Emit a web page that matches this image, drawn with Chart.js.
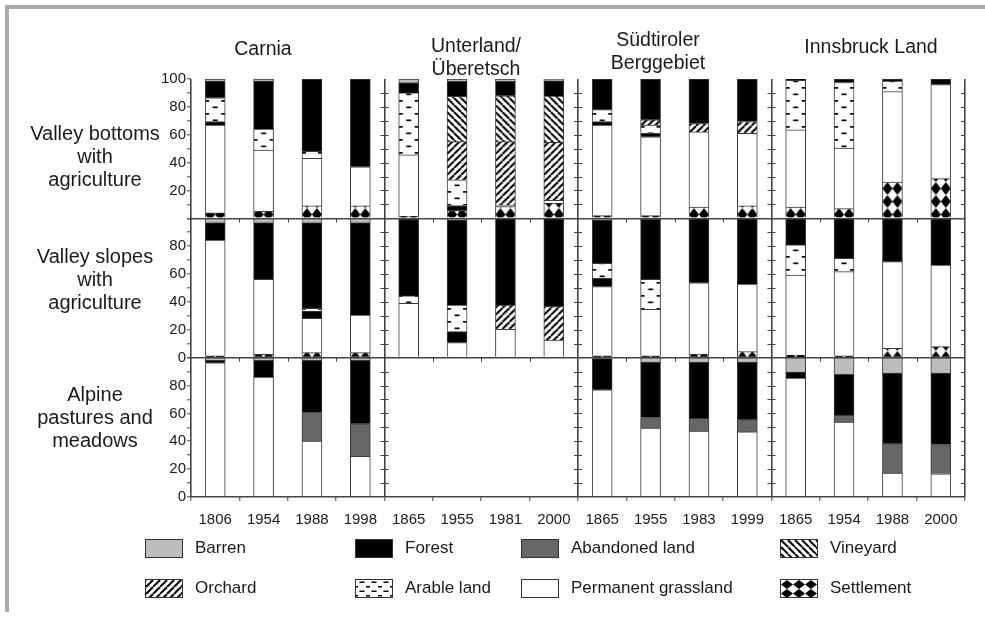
<!DOCTYPE html>
<html>
<head>
<meta charset="utf-8">
<script src="https://cdn.jsdelivr.net/npm/chart.js@4.4.0/dist/chart.umd.min.js"></script>
<style>
  html, body { background: #fff; }
  body { margin: 0; width: 985px; height: 620px; overflow: hidden; position: relative;
         font-family: "Liberation Sans", Arial, sans-serif; color: #1a1a1a; }
  .frame { position: absolute; background: #ababab; }
  canvas { position: absolute; left: 0; top: 0; }
  .lbl { position: absolute; transform: translate(-50%, -50%); line-height: 23px;
         text-align: center; white-space: nowrap; }
  .title { font-size: 19.5px; }
  .zone { font-size: 20px; }
  .leg { position: absolute; height: 22px; display: flex; align-items: center; font-size: 17px; white-space: nowrap; }
  .sw { width: 36px; height: 17px; border: 1.5px solid #333; margin-right: 12px; }
</style>
</head>
<body>
<div class="frame" style="left:5px; top:5px; width:980px; height:4px;"></div>
<div class="frame" style="left:5px; top:5px; width:4px; height:607px;"></div>
<canvas id="chart" width="985" height="620"></canvas>
<div id="texts"></div>
<script>
const years = ['1806', '1954', '1988', '1998', '1865', '1955', '1981', '2000',
               '1865', '1955', '1983', '1999', '1865', '1954', '1988', '2000'];
const regions = ['Carnia', 'Unterland/<br>Überetsch', 'Südtiroler<br>Berggebiet', 'Innsbruck Land'];
const zones = ['Valley bottoms<br>with<br>agriculture', 'Valley slopes<br>with<br>agriculture',
               'Alpine<br>pastures and<br>meadows'];

// share of area (%), one array per zone (valley bottoms, valley slopes, alpine)
const settlement = [
  [4, 5, 9, 9, 1.5, 5.5, 8.5, 11, 2, 2, 8, 9, 8, 7, 26, 28.5],
  [1.4, 2.4, 3.6, 3.6, 0, 0, 0, 0, 1.4, 1.4, 2.6, 4.3, 1.9, 1.4, 6.7, 7.9],
  [0, 0, 0, 0, 0, 0, 0, 0, 0, 0, 0, 0, 0, 0, 0, 0]
];
const grassland = [
  [63, 44, 34, 28, 44, 0, 1, 2, 65, 56.5, 54, 52, 55.5, 43.5, 65, 67.5],
  [83, 53.8, 24.6, 27, 39, 10.8, 20.3, 12.7, 49.6, 33.3, 51.2, 48.6, 57.4, 60.3, 62.2, 58.6],
  [96.3, 86, 40.2, 29.2, 0, 0, 0, 0, 77, 49.5, 47.4, 46.7, 85.4, 53.8, 17.2, 16.7]
];
// black band drawn between grassland and arable land
const forestStrip = [
  [2.5, 0, 0, 0, 0, 3.7, 0, 0, 2.5, 2.5, 0, 0, 0, 0, 0, 0],
  [0, 0, 5.3, 0, 0, 7.9, 0, 0, 6, 0, 0, 0, 0, 0, 0, 0],
  [0, 0, 0, 0, 0, 0, 0, 0, 0, 0, 0, 0, 0, 0, 0, 0]
];
const arable = [
  [17, 15, 5, 0, 44.5, 18.5, 0, 0, 8.5, 6, 0, 0, 35.5, 47, 7.5, 0],
  [0, 0, 1.9, 0, 5.3, 19.1, 0, 0, 10.7, 21.5, 0, 0, 21.6, 9.6, 0, 0],
  [0, 0, 0, 0, 0, 0, 0, 0, 0, 0, 0, 0, 0, 0, 0, 0]
];
const orchard = [
  [0, 0, 0, 0, 0, 27.3, 45.5, 41.5, 0, 3.7, 6, 8.5, 0, 0, 0, 0],
  [0, 0, 0, 0, 0, 0, 17.5, 23.9, 0, 0, 0, 0, 0, 0, 0, 0],
  [0, 0, 0, 0, 0, 0, 0, 0, 0, 0, 0, 0, 0, 0, 0, 0]
];
const vineyard = [
  [0, 0, 0, 0, 0, 32.6, 33, 33.3, 0, 0, 0, 0, 0, 0, 0, 0],
  [0, 0, 0, 0, 0, 0, 0, 0, 0, 0, 0, 0, 0, 0, 0, 0],
  [0, 0, 0, 0, 0, 0, 0, 0, 0, 0, 0, 0, 0, 0, 0, 0]
];
const abandoned = [
  [0, 0, 0, 0, 0, 0, 0, 0, 0, 0, 0, 0, 0, 0, 0, 0],
  [0, 0, 0, 0, 0, 0, 0, 0, 0, 0, 0, 0, 0, 0, 0, 0],
  [0, 0, 20.8, 23.4, 0, 0, 0, 0, 0, 7.5, 9.1, 8.8, 0, 4.8, 21.1, 20.9]
];
const forest = [
  [12, 34.5, 52, 63, 7.5, 10.8, 10.4, 10.8, 22, 29.3, 32, 30.5, 1, 2.5, 1.5, 4],
  [12.6, 40.8, 61.6, 66.4, 55, 61, 62.2, 63.4, 31.1, 43.1, 46.2, 47.1, 19.1, 28.7, 31.1, 33.5],
  [1.7, 12, 37, 45.4, 0, 0, 0, 0, 22.3, 39.9, 40.4, 41.4, 4.3, 29.4, 50.7, 51.4]
];
const barren = [
  [1.5, 1.5, 0, 0, 2.5, 1.6, 1.6, 1.6, 0, 0, 0, 0, 0, 0, 0, 0],
  [3, 3, 3, 3, 0.7, 1.2, 0, 0, 1, 0.7, 0, 0, 0, 0, 0, 0],
  [2, 2, 2, 2, 0, 0, 0, 0, 0.7, 3.1, 3.1, 3.1, 10.3, 12, 11, 11]
];

// pattern tiles
function tile(w, h, draw) {
  const c = document.createElement('canvas');
  c.width = w; c.height = h;
  const g = c.getContext('2d');
  g.fillStyle = '#fff'; g.fillRect(0, 0, w, h);
  g.fillStyle = '#000'; g.strokeStyle = '#000';
  draw(g, w, h);
  return c;
}
const diagonal = back => (g, w, h) => {
  g.lineWidth = 2;
  for (let k = -1; k <= 1; k++) {
    g.beginPath();
    if (back) { g.moveTo(k * w, 0); g.lineTo(k * w + w, h); }
    else { g.moveTo(k * w, h); g.lineTo(k * w + w, 0); }
    g.stroke();
  }
};
const diamond = (g, w, h) => {
  g.beginPath(); g.moveTo(w / 2, 0); g.lineTo(w, h / 2); g.lineTo(w / 2, h); g.lineTo(0, h / 2);
  g.closePath(); g.fill();
};
const vineTile = tile(7, 7, diagonal(true));
const orchTile = tile(7, 7, diagonal(false));
const arableTile = tile(20, 13, g => {
  g.fillRect(7.5, 2.5, 5, 1.7);
  g.fillRect(0, 9, 4, 1.7);
  g.fillRect(16, 9, 4, 1.7);
});
const arableKey = tile(12, 9, g => {
  g.fillRect(3.5, 1.5, 5, 1.5);
  g.fillRect(0, 6, 2, 1.5);
  g.fillRect(10, 6, 2, 1.5);
});
const settleTile = tile(10, 13, diamond);
const settleKey = tile(12, 9, diamond);

const BAR = 20;
function barPattern(t) {
  return c => {
    const p = c.chart.ctx.createPattern(t, 'repeat');
    const x = c.chart.scales.x;
    if (x && c.dataIndex !== undefined) {
      p.setTransform(new DOMMatrix([1, 0, 0, 1, x.getPixelForValue(c.dataIndex) - BAR / 2, 0]));
    }
    return p;
  };
}

const uses = [
  { name: 'Settlement', data: settlement, fill: barPattern(settleTile), key: settleKey },
  { name: 'Permanent grassland', data: grassland, fill: '#ffffff' },
  { name: 'Forest strip', data: forestStrip, fill: '#000000' },
  { name: 'Arable land', data: arable, fill: barPattern(arableTile), key: arableKey },
  { name: 'Orchard', data: orchard, fill: barPattern(orchTile), key: orchTile },
  { name: 'Vineyard', data: vineyard, fill: barPattern(vineTile), key: vineTile },
  { name: 'Abandoned land', data: abandoned, fill: '#666666' },
  { name: 'Forest', data: forest, fill: '#000000' },
  { name: 'Barren', data: barren, fill: '#bdbdbd' }
];

const rowIds = ['y0', 'y1', 'y2'];
const datasets = [];
rowIds.forEach((id, r) => {
  uses.forEach(u => {
    datasets.push({
      label: u.name,
      data: u.data[r].map(v => v > 0 ? v : null),
      yAxisID: id,
      stack: 'row' + r,
      grouped: false,
      barThickness: BAR,
      backgroundColor: u.fill,
      borderColor: '#3a3a3a',
      borderWidth: 1
    });
  });
});

function rowScale(r) {
  return {
    type: 'linear', position: 'left', stack: 'rows', stackWeight: 1, weight: 3 - r,
    stacked: true, min: 0, max: 100,
    afterFit(s) { s.width = 50; },
    border: { display: false },
    grid: {
      z: 1, lineWidth: 1.6, tickLength: 4, tickColor: '#444', tickWidth: 1,
      color: c => (c.tick && c.tick.value === 0) ? '#444' : 'rgba(0,0,0,0)'
    },
    ticks: {
      stepSize: 10, padding: 1, autoSkip: false, color: '#1a1a1a', font: { size: 15 },
      callback: v => (v % 20 !== 0 || (r === 0 && v === 0) || (r > 0 && v === 100)) ? '' : v
    }
  };
}

const panelTicks = {
  id: 'panelTicks',
  afterDraw(chart) {
    const { ctx, scales: { x } } = chart;
    const n = years.length, slot = (x.right - x.left) / n;
    ctx.save();
    ctx.strokeStyle = '#444';
    ctx.lineWidth = 1;
    rowIds.forEach((id, r) => {
      const y = chart.scales[id];
      ctx.beginPath();
      for (let b = 4; b <= n; b += 4) {
        const px = x.left + b * slot;
        for (let v = 10; v < 100; v += 10) {
          const py = Math.round(y.getPixelForValue(v)) + 0.5;
          ctx.moveTo(px - 4, py);
          ctx.lineTo(px + (b < n ? 4 : 0), py);
        }
      }
      if (r < rowIds.length - 1) {
        for (let i = 1; i < n; i++) {
          if (i % 4 === 0) continue;
          const px = Math.round(x.left + i * slot) + 0.5;
          ctx.moveTo(px, y.bottom);
          ctx.lineTo(px, y.bottom + 4);
        }
      }
      ctx.stroke();
    });
    ctx.restore();
  }
};

Chart.defaults.font.family = '"Liberation Sans", Arial, sans-serif';
Chart.defaults.font.size = 15;
Chart.defaults.color = '#1a1a1a';

new Chart(document.getElementById('chart'), {
  type: 'bar',
  data: { labels: years, datasets },
  options: {
    responsive: false,
    animation: false,
    devicePixelRatio: 1,
    layout: { padding: { left: 141, right: 20, top: 79, bottom: 83 } },
    plugins: { legend: { display: false }, tooltip: { enabled: false } },
    scales: {
      x: {
        type: 'category', position: 'bottom', stacked: true,
        afterFit(s) { s.height = 40; },
        border: { display: false },
        grid: {
          z: 1, offset: true, lineWidth: 1.6, tickLength: 4, tickColor: '#444', tickWidth: 1,
          color: c => (c.index === undefined || c.index % 4 === 0) ? '#444' : 'rgba(0,0,0,0)'
        },
        ticks: { padding: 10, maxRotation: 0, autoSkip: false, font: { size: 15 } }
      },
      y0: rowScale(0),
      y1: rowScale(1),
      y2: rowScale(2)
    }
  },
  plugins: [panelTicks]
});

// titles, zone labels and legend
const texts = document.getElementById('texts');
function put(html, x, y, cls) {
  const d = document.createElement('div');
  d.className = cls; d.innerHTML = html;
  d.style.left = x + 'px'; d.style.top = y + 'px';
  texts.appendChild(d);
  return d;
}
const titlePos = [[263, 48], [476, 57], [658, 51], [871, 46]];
regions.forEach((t, i) => put(t, titlePos[i][0], titlePos[i][1], 'lbl title'));
const zonePos = [[95, 156], [95, 279], [95, 417]];
zones.forEach((t, i) => put(t, zonePos[i][0], zonePos[i][1], 'lbl zone'));

const legendItems = ['Barren', 'Forest', 'Abandoned land', 'Vineyard',
                     'Orchard', 'Arable land', 'Permanent grassland', 'Settlement'];
const legCols = [145, 355, 521, 780], legRows = [537, 577];
legendItems.forEach((name, i) => {
  const u = uses.find(v => v.name === name);
  const d = put('', legCols[i % 4], legRows[Math.floor(i / 4)], 'leg');
  const sw = document.createElement('div');
  sw.className = 'sw';
  if (u.key) sw.style.backgroundImage = 'url(' + u.key.toDataURL() + ')';
  else sw.style.background = u.fill;
  d.appendChild(sw);
  d.appendChild(document.createTextNode(name));
});
</script>
</body>
</html>
